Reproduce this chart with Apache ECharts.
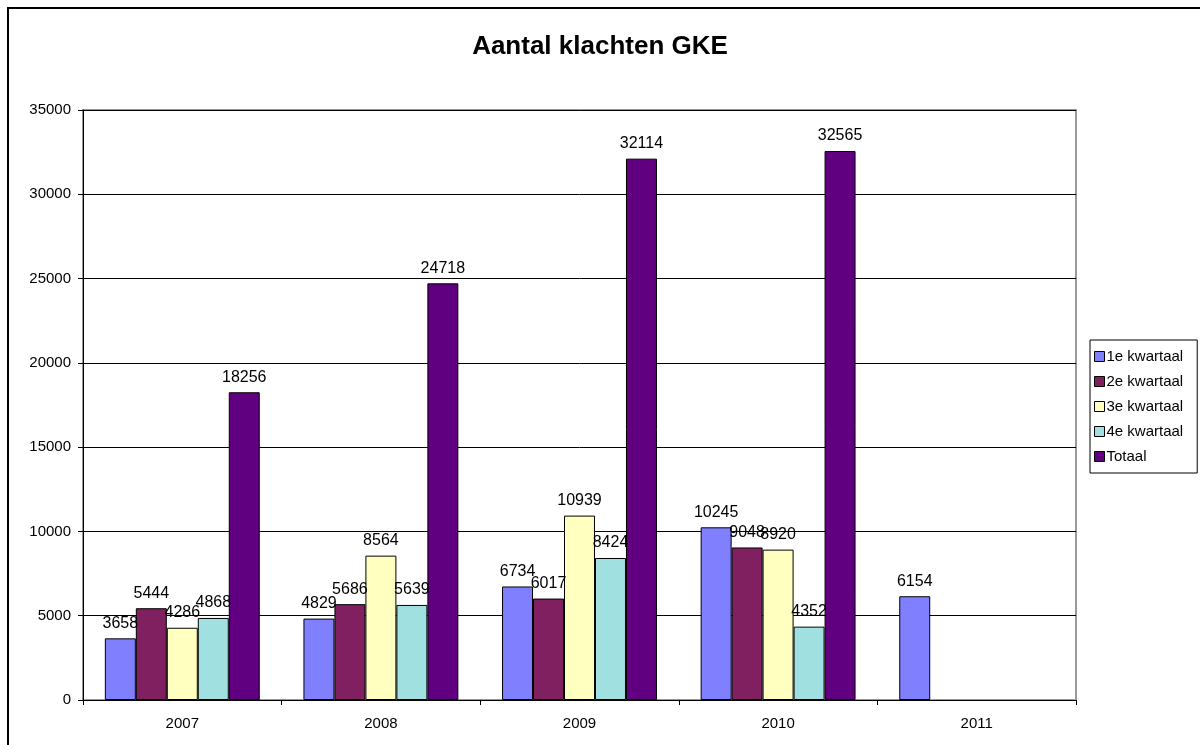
<!DOCTYPE html>
<html>
<head>
<meta charset="utf-8">
<title>Aantal klachten GKE</title>
<script src="https://cdn.jsdelivr.net/npm/echarts@6/dist/echarts.min.js"></script>
<style>
  html, body { margin: 0; padding: 0; background: #fff; }
  #chart { width: 1200px; height: 745px; }
</style>
</head>
<body>
<div id="chart"></div>
<script>
var years = ['2007', '2008', '2009', '2010', '2011'];
var seriesNames = ['1e kwartaal', '2e kwartaal', '3e kwartaal', '4e kwartaal', 'Totaal'];
var q1 = [3658, 4829, 6734, 10245, 6154];
var q2 = [5444, 5686, 6017, 9048, null];
var q3 = [4286, 8564, 10939, 8920, null];
var q4 = [4868, 5639, 8424, 4352, null];
var totaal = [18256, 24718, 32114, 32565, null];
var colors = ['#8080FF', '#802060', '#FFFFC0', '#A0E0E0', '#600080'];

var values = [q1, q2, q3, q4, totaal];
var series = [];
for (var i = 0; i < values.length; i++) {
  series.push({
    name: seriesNames[i],
    type: 'bar',
    data: values[i],
    barGap: '0%',
    barCategoryGap: '22%',
    itemStyle: { color: colors[i], borderColor: '#000', borderWidth: 1 },
    label: {
      show: true,
      position: 'top',
      distance: 7,
      color: '#000',
      fontFamily: 'Arial, "Liberation Sans", sans-serif',
      fontSize: 16
    }
  });
}

var chart = echarts.init(document.getElementById('chart'));
chart.setOption({
  animation: false,
  backgroundColor: '#fff',
  color: colors,
  textStyle: { fontFamily: 'Arial, "Liberation Sans", sans-serif' },
  title: {
    text: 'Aantal klachten GKE',
    left: 'center',
    top: 29,
    textStyle: { fontSize: 26, fontWeight: 'bold', color: '#000' }
  },
  legend: {
    orient: 'vertical',
    left: 1090,
    top: 340,
    itemWidth: 10,
    itemHeight: 10,
    itemGap: 10,
    icon: 'rect',
    padding: [9, 14, 9, 4],
    borderColor: '#000',
    borderWidth: 1,
    textStyle: { fontSize: 15, color: '#000', padding: [0, 0, 0, -3] },
    itemStyle: { borderColor: '#000', borderWidth: 1 },
    data: seriesNames
  },
  grid: { left: 83, right: 124, top: 110, bottom: 45, show: true, borderColor: '#999', borderWidth: 2 },
  xAxis: {
    type: 'category',
    data: years,
    axisLine: { lineStyle: { color: '#000', width: 1 } },
    axisTick: { show: true, length: 5, lineStyle: { color: '#000' } },
    axisLabel: { color: '#000', fontSize: 15, margin: 16 }
  },
  yAxis: {
    type: 'value',
    min: 0,
    max: 35000,
    interval: 5000,
    axisLine: { show: true, lineStyle: { color: '#000', width: 1 } },
    axisTick: { show: true, length: 5, lineStyle: { color: '#000' } },
    axisLabel: { color: '#000', fontSize: 15, margin: 12, formatter: function (v) { return String(v); } },
    splitLine: { lineStyle: { color: '#000', width: 1 } }
  },
  graphic: [{
    type: 'rect',
    shape: { x: 8, y: 8, width: 1200, height: 800 },
    style: { fill: 'none', stroke: '#000', lineWidth: 2 },
    silent: true
  }],
  series: series
});
</script>
</body>
</html>
